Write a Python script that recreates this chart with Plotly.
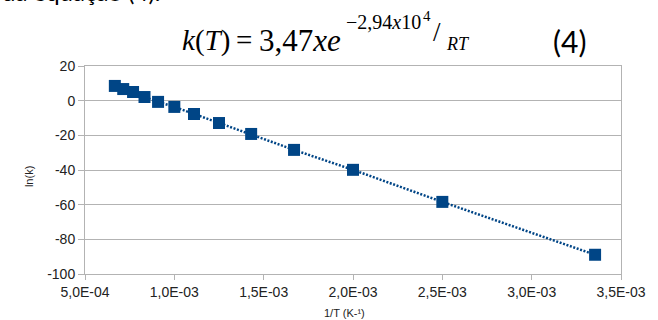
import plotly.graph_objects as go

# Arrhenius plot data: inverse temperature (1/K) and ln(k)
inv_T = [6.67e-4, 7.14e-4, 7.69e-4, 8.33e-4, 9.09e-4, 1.00e-3, 1.11e-3,
         1.25e-3, 1.43e-3, 1.67e-3, 2.00e-3, 2.50e-3, 3.355e-3]
ln_k = [8.5, 6.7, 5.0, 2.1, -0.7, -3.6, -7.7, -12.9, -19.2, -28.4, -39.9, -58.4, -88.9]

x_tick_vals = [5.0e-4, 1.0e-3, 1.5e-3, 2.0e-3, 2.5e-3, 3.0e-3, 3.5e-3]
x_tick_text = ["5,0E-04", "1,0E-03", "1,5E-03", "2,0E-03", "2,5E-03", "3,0E-03", "3,5E-03"]
y_tick_vals = [-100, -80, -60, -40, -20, 0, 20]
y_tick_text = ["-100", "-80", "-60", "-40", "-20", "0", "20"]

W, H = 658, 320
ML, MR, MT, MB = 85, 28, 66, 46
PW, PH = W - ML - MR, H - MT - MB

BLUE = "#004586"
GRID = "#b3b3b3"
TXT = "#222222"


def px(x):
    return (x - ML) / PW


def py(y):
    return (H - MB - y) / PH


fig = go.Figure()
fig.add_trace(go.Scatter(
    x=inv_T, y=ln_k, mode="lines+markers",
    line=dict(color=BLUE, width=2.5, dash="2px,1.6px"),
    marker=dict(symbol="square", size=12, color=BLUE),
    showlegend=False, cliponaxis=False,
))

fig.update_layout(
    width=W, height=H,
    margin=dict(l=ML, r=MR, t=MT, b=MB, pad=0),
    paper_bgcolor="white", plot_bgcolor="white",
    font=dict(family="Liberation Sans", size=14, color=TXT),
    xaxis=dict(
        range=[5.0e-4, 3.5e-3], tickvals=x_tick_vals, ticktext=x_tick_text,
        showgrid=False, zeroline=False, showline=True, linecolor=GRID,
        linewidth=1, mirror=True, ticks="outside", ticklen=5,
        tickcolor=GRID, tickfont=dict(size=14, color=TXT),
    ),
    xaxis2=dict(
        range=[5.0e-4, 3.5e-3], tickvals=x_tick_vals, overlaying="x",
        anchor="free", position=100 / 120, side="bottom",
        showgrid=False, zeroline=False, showline=True, linecolor=GRID,
        linewidth=1, ticks="outside", ticklen=5, tickcolor=GRID,
        showticklabels=False,
    ),
    yaxis=dict(
        range=[-100, 20], tickvals=y_tick_vals, ticktext=y_tick_text,
        showgrid=True, gridcolor=GRID, gridwidth=1, zeroline=False,
        showline=True, linecolor=GRID, linewidth=1, mirror=True,
        ticks="outside", ticklen=6, tickcolor=GRID,
        tickfont=dict(size=14, color=TXT),
    ),
)

ann = []
# axis titles
ann.append(dict(text="ln(k)", x=px(20), y=py(177), textangle=-90,
                font=dict(family="Liberation Sans", size=11, color=TXT)))
ann.append(dict(text="1/T (K-¹)", x=px(349), y=py(313),
                font=dict(family="Liberation Sans", size=11, color=TXT)))

# rate equation above the chart
SERIF = "Liberation Serif"
ann.append(dict(text="<i>k</i>(<i>T</i>)", x=px(182), y=py(40), xanchor="left",
                font=dict(family=SERIF, size=29, color="black")))
ann.append(dict(text="=", x=px(237), y=py(40), xanchor="left",
                font=dict(family=SERIF, size=29, color="black")))
ann.append(dict(text="3,47<i>xe</i>", x=px(260), y=py(40), xanchor="left",
                font=dict(family=SERIF, size=31, color="black")))
ann.append(dict(text="−2,94<i>x</i>10", x=px(348), y=py(22), xanchor="left",
                font=dict(family=SERIF, size=20, color="black")))
ann.append(dict(text="4", x=px(427), y=py(16), xanchor="left",
                font=dict(family=SERIF, size=15, color="black")))
ann.append(dict(text="/", x=px(437), y=py(32), xanchor="left",
                font=dict(family=SERIF, size=27, color="black")))
ann.append(dict(text="<i>RT</i>", x=px(450), y=py(44), xanchor="left",
                font=dict(family=SERIF, size=18, color="black")))
ann.append(dict(text="(4)", x=px(559), y=py(41), xanchor="left",
                font=dict(family="Lato", size=30, color="black")))

# end of the preceding sentence, running off the top edge
ann.append(dict(text="da equação (4).", x=px(164), y=py(-8), xanchor="right",
                font=dict(family="Lato", size=24, color="black")))

for a in ann:
    a.setdefault("xref", "paper")
    a.setdefault("yref", "paper")
    a.setdefault("showarrow", False)
    a.setdefault("yanchor", "middle")
fig.update_layout(annotations=ann)

fig.write_html("out.html")
